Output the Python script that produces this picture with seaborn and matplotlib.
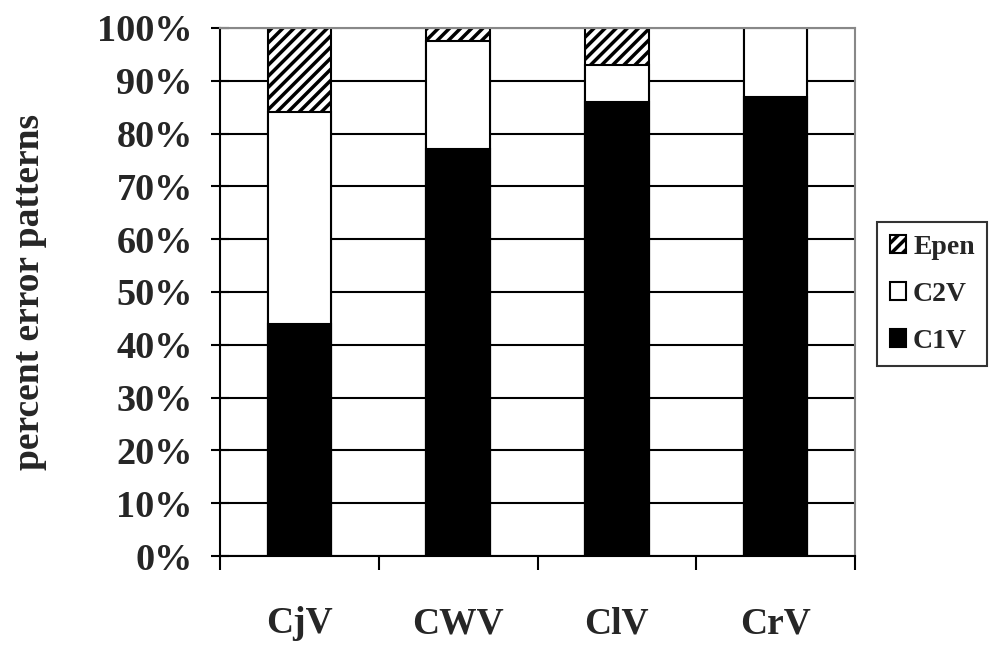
import numpy as np
import pandas as pd
import seaborn as sns
import matplotlib.pyplot as plt

categories = ['CjV', 'CWV', 'ClV', 'CrV']
c1v = [44, 77, 86, 87]
c2v = [40, 20.5, 7, 13]
epen = [16, 2.5, 7, 0]

df = pd.DataFrame({'cat': categories, 'C1V': c1v, 'C2V': c2v, 'Epen': epen})
df['c12'] = df['C1V'] + df['C2V']
df['total'] = df['c12'] + df['Epen']

sns.set_style('white')
plt.rcParams['font.family'] = ['Liberation Serif', 'DejaVu Serif']
plt.rcParams['font.weight'] = 'bold'
plt.rcParams['hatch.linewidth'] = 2.5

fig = plt.figure(figsize=(10, 6.46), dpi=100)
ax = fig.add_axes([0.22, 0.1393, 0.635, 0.8174])

# stacked bars: draw cumulative totals, tallest first
sns.barplot(data=df, x='cat', y='total', color='white', edgecolor='black', linewidth=1.5,
            hatch='///', width=0.4, label='Epen', ax=ax)
sns.barplot(data=df, x='cat', y='c12', color='white', edgecolor='black', linewidth=1.5,
            width=0.4, label='C2V', ax=ax)
sns.barplot(data=df, x='cat', y='C1V', color='black', edgecolor='black', linewidth=1.5,
            width=0.4, label='C1V', ax=ax)

for p in ax.containers[0]:
    p.set_facecolor('white')

ax.set_ylim(0, 100)
ax.set_xlim(-0.5, 3.5)
ax.set_yticks(np.arange(0, 101, 10))
ax.set_yticklabels([f'{v}%' for v in range(0, 101, 10)], fontsize=27.5, fontweight='bold')
ax.yaxis.grid(True, color='black', linewidth=1.5)
ax.set_axisbelow(True)

ax.set_xticks(range(4))
ax.set_xticklabels(categories, fontsize=27, fontweight='bold')
ax.set_xticks(np.arange(-0.5, 4, 1), minor=True)
ax.tick_params(axis='x', which='major', length=0, pad=36)
ax.tick_params(axis='x', which='minor', length=10, width=1.5, direction='out', bottom=True, color='black')
ax.tick_params(axis='y', length=13, width=1.5, direction='inout', left=True, color='black', pad=13)

ax.set_xlabel('')
ax.set_ylabel('percent error patterns', fontsize=27, fontweight='bold')
ax.yaxis.set_label_coords(-0.272, 0.5)

for s in ['left', 'bottom']:
    ax.spines[s].set_color('black')
    ax.spines[s].set_linewidth(1.5)
for s in ['top', 'right']:
    ax.spines[s].set_color('#888888')
    ax.spines[s].set_linewidth(1.5)

leg = ax.legend(loc='upper left', bbox_to_anchor=(0.877, 0.6563), bbox_transform=fig.transFigure,
                frameon=True, fancybox=False, edgecolor='black',
                prop={'weight': 'bold', 'size': 20}, handlelength=0.6, handleheight=0.6,
                handletextpad=0.25, borderpad=0.45, labelspacing=0.8, borderaxespad=0)
leg.get_frame().set_linewidth(1.5)

fig.savefig('out.png', dpi=100)
